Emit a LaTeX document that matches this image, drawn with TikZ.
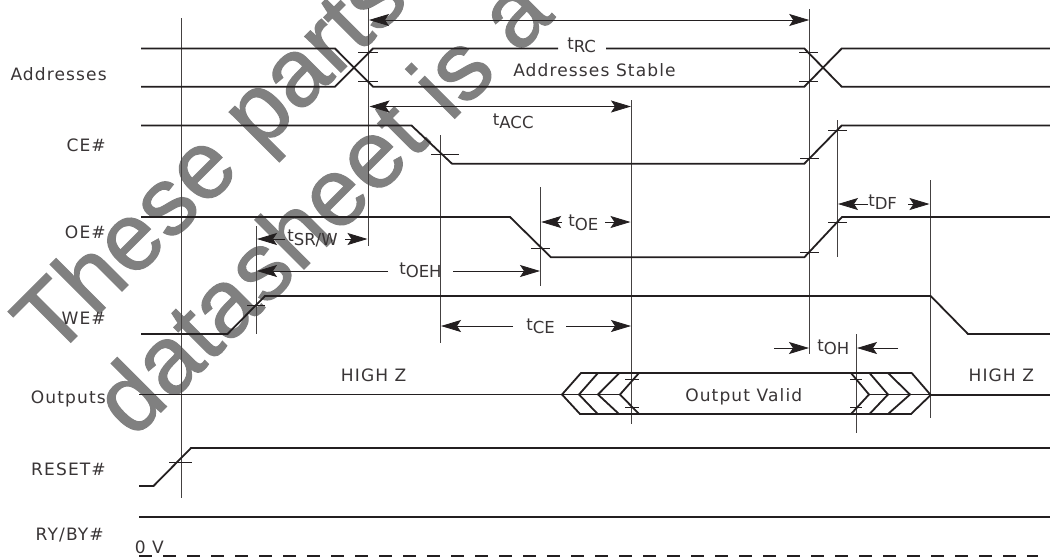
\documentclass[tikz,border=0pt]{standalone}
\usepackage{fontspec}
\setmainfont{DejaVu Sans}
\newfontfamily\wmfont[FakeBold=1.2]{Liberation Sans}
\newfontfamily\spfont[LetterSpace=6.5]{DejaVu Sans}
\usetikzlibrary{arrows.meta}
\definecolor{ink}{HTML}{231F20}
\newcommand{\tsub}[1]{t\raisebox{-2.6pt}{#1}}
\tikzset{
  sig/.style={draw=ink,line width=1.35pt,line join=miter},
  thin line/.style={draw=ink!85,line width=0.75pt},
  tick/.style={draw=ink,line width=0.6pt},
  dim/.style={draw=ink,line width=0.6pt,{Stealth[length=15pt,width=9pt,inset=3pt]}-{Stealth[length=15pt,width=9pt,inset=3pt]}},
  dimr/.style={draw=ink,line width=0.6pt,-{Stealth[length=15pt,width=9pt,inset=3pt]}},
  lab/.style={anchor=base east,inner sep=0,text=ink!90,font=\spfont\fontsize{12.8}{14}\selectfont},
  txt/.style={anchor=base west,inner sep=0,text=ink!90,font=\spfont\fontsize{12.8}{14}\selectfont},
  tlab/.style={anchor=base west,inner sep=0,text=ink!90,font=\fontsize{12.4}{14}\selectfont},
  wm/.style={anchor=base west,inner sep=0,rotate=45,text=black!50,font=\wmfont\fontsize{72}{72}\selectfont}
}
\begin{document}
\begin{tikzpicture}[x=0.75pt,y=-0.75pt]
\useasboundingbox (0,0) rectangle (1050,558);
\begin{scope}
\clip (0,0) rectangle (1050,558);
\node[wm] (wm1) at (53,360) {These parts};
\node[wm] (wm2) at (133,440) {datasheet is a};
\end{scope}
% vertical reference lines
\foreach \n/\x/\a/\b in {v1/181/18/498,v2/368.5/8/246,v3/631.5/100/424,v4/809.7/9/354,v5/440/135/343,v6/256/226/334,v7/540.7/187/286,v8/837/120/257,v9/930.7/180/418,v10/856.5/334/433}
  \draw[thin line] (\x,\a) coordinate (\n a) -- (\x,\b) coordinate (\n b);
% Addresses
\draw[sig] (141,48.5) -- (335,48.5) -- (373,86.7) -- (804.3,86.7) -- (841.7,48.5) -- (1050,48.5);
\draw[sig] (141,86.7) -- (335,86.7) -- (373,48.5) -- (558,48.5);
\draw[sig] (606,48.5) -- (804.3,48.5) -- (841.7,86.7) -- (1050,86.7);
% CE#
\draw[sig] (141,125.5) -- (411.5,125.5) -- (452,163.7) -- (804.3,163.7) -- (841.7,125.5) -- (1050,125.5);
% OE#
\draw[sig] (141,217) -- (510,217) -- (551,257.3) -- (804.3,257.3) -- (842,217) -- (1050,217);
% WE#
\draw[sig] (141,334) -- (227.5,334) -- (265,296) -- (930.7,296) -- (968,334) -- (1050,334);
% Outputs
\draw[sig] (139,394.5) -- (562,394.5);
\draw[sig] (930.7,395) -- (1050,395);
\draw[sig] (581,373) -- (911.7,373) -- (930.7,395) -- (911,414) -- (580,414) -- (562,394.5) -- cycle;
\draw[sig] (562,394.5) -- (620,394.5);
\draw[sig] (598,373) -- (579,394.5) -- (597.7,414);
\draw[sig] (619.3,373) -- (598,394.5) -- (619,414);
\draw[sig] (639,373) -- (620,394.5) -- (639,414);
\draw[sig] (851,373) -- (869,394.5) -- (851,414);
\draw[sig] (869.5,373) -- (888,394.5) -- (869.5,414);
\draw[sig] (888,373) -- (910,394.5) -- (888,414);
\draw[sig] (869,394.5) -- (930.7,394.5);
% RESET#, RY/BY#, 0 V
\draw[sig] (139,486) -- (153.5,486) -- (191,448) -- (1050,448);
\draw[sig] (139,517) -- (1050,517);
\draw[draw=ink,line width=1.3pt,dash pattern=on 9.4pt off 8.6pt] (139,556) -- (1038,556);
% threshold ticks
\foreach \a/\b/\y in {358/378/52.7,358/378/81.7,799/818/52.7,799/818/81.7,431/459/154,800/819/158,828/847/130,531/550/248,800/819/252,828/847/222,247/265/305,625/639/379.3,625/639/407,850/862/379.3,850/862/407,169/192/462}
  \draw[tick] (\a,\y) -- (\b,\y);
% labels
\node[lab] (lAddr) at (107,80) {Addresses};
\node[lab] (lCE) at (106,151.7) {CE\#};
\node[lab] (lOE) at (106,238.7) {OE\#};
\node[lab] (lWE) at (106,324) {WE\#};
\node[lab] (lOut) at (106,403.3) {Outputs};
\node[lab] (lRes) at (106,475) {RESET\#};
\node[lab] (lRy) at (104,540) {RY/BY\#};
\node[txt] (l0v) at (134.5,553) {0 V};
\node[txt] (lz1) at (340.7,381) {HIGH Z};
\node[txt] (lz2) at (968.3,381) {HIGH Z};
\node[txt] (lval) at (685,401.7) {Output Valid};
\node[txt] (lstab) at (513,76) {Addresses Stable};
\node[tlab] (tRC) at (567,49.5) {\tsub{RC}};
\node[tlab] (tACC) at (492.7,125) {\tsub{ACC}};
\node[tlab] (tSR) at (287,241.7) {\tsub{SR/W}};
\node[tlab] (tOEH) at (399,274) {\tsub{OEH}};
\node[tlab] (tOE) at (568,226.7) {\tsub{OE}};
\node[tlab] (tDF) at (868,206) {\tsub{DF}};
\node[tlab] (tCE) at (526,330) {\tsub{CE}};
\node[tlab] (tOH) at (817,351) {\tsub{OH}};
% dimension arrows
\draw[dim] (369,20) -- (809.2,20);
\draw[dim] (369.5,106.5) -- (631,106.5);
\draw[dimr] (285,239) -- (257,239);
\draw[dimr] (345,239) -- (367.5,239);
\draw[dimr] (388,271) -- (257,271);
\draw[dimr] (453,271) -- (540,271);
\draw[dimr] (562,222) -- (541.2,222);
\draw[dimr] (605,222) -- (630.5,222);
\draw[dimr] (868,204) -- (838,204);
\draw[dimr] (908,204) -- (929.5,204);
\draw[dimr] (513,326) -- (441,326);
\draw[dimr] (566,326) -- (631,326);
\draw[dimr] (774,348) -- (809,348);
\draw[dimr] (898,348) -- (857,348);
\end{tikzpicture}
\end{document}
